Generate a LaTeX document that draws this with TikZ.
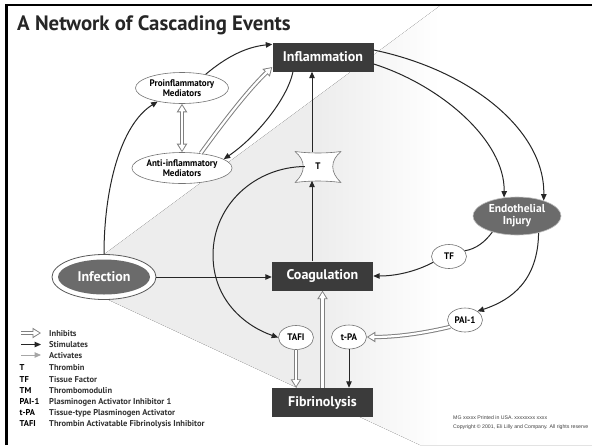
\documentclass[tikz,border=0pt]{standalone}
\usepackage{fontspec}
\setmainfont{PT Sans}
\newfontfamily\din{PT Sans}
\newfontfamily\dinc[FakeStretch=0.95]{PT Sans}
\newfontfamily\arialf{Liberation Sans}
\usetikzlibrary{arrows.meta,shapes.geometric,calc}
\definecolor{boxc}{gray}{0.23}
\pgfdeclarehorizontalshading{wedgeshade}{100bp}{color(0bp)=(black!7); color(49bp)=(black!7); color(60.5bp)=(white); color(100bp)=(white)}
\tikzset{
  bigbox/.style={rectangle, fill=boxc, text=white, minimum width=101pt, minimum height=29pt, inner sep=0pt, font=\din\bfseries\fontsize{14}{14}\selectfont},
  medell/.style={ellipse, draw=black!55, line width=0.6pt, fill=white, minimum width=93pt, minimum height=31pt, inner sep=0pt, align=center, font=\dinc\bfseries\fontsize{9.5}{10}\selectfont},
  smell/.style={ellipse, draw=black!55, line width=0.6pt, fill=white, minimum width=35pt, minimum height=24pt, inner sep=0pt, font=\dinc\bfseries\fontsize{9.5}{10}\selectfont},
  stim/.style={draw=black!85, line width=1pt, -{Triangle[length=6.5pt,width=5.5pt]}},
  plainline/.style={draw=black!85, line width=1pt},
  act/.style={draw=black!35, line width=1pt, -{Triangle[length=6.5pt,width=5.5pt]}},
  hollowR/.style={draw=black!50, line width=4.2pt, -{Triangle[length=8.5pt,width=10pt]},
    postaction={draw=white, line width=2.2pt, shorten >=1.6pt, -{Triangle[length=6pt,width=6.6pt]}}},
  hollowB/.style={draw=black!50, line width=4.2pt, {Triangle[length=8.5pt,width=10pt]}-{Triangle[length=8.5pt,width=10pt]},
    postaction={draw=white, line width=2.2pt, shorten >=1.6pt, shorten <=1.6pt, {Triangle[length=6pt,width=6.6pt]}-{Triangle[length=6pt,width=6.6pt]}}},
  legabbr/.style={anchor=base west, inner sep=0pt, text=black, font=\din\bfseries\fontsize{8.5}{8.5}\selectfont},
  legtext/.style={anchor=base west, inner sep=0pt, text=black!80, font=\din\bfseries\fontsize{8.5}{8.5}\selectfont},
  copytext/.style={anchor=base west, inner sep=0pt, text=black!75, font=\arialf\fontsize{5.2}{6}\selectfont},
}
\begin{document}
\begin{tikzpicture}[x=1pt,y=-1pt]
\useasboundingbox (0,0) rectangle (592,445);
\begin{scope}
\clip (0,0) rectangle (592,445);
\fill[white] (0,0) rectangle (592,445);
% background wedge
\fill[shading=wedgeshade] (68,281) -- (441,5) -- (592,5) -- (592,445) -- (420,445) -- cycle;
% frame
\draw[line width=2.6pt, black] (6.5,445) -- (6.5,5) -- (592,5);

% title
\node[anchor=base west, inner sep=0pt, text=black!85, font=\din\bfseries\fontsize{20.8}{21}\selectfont] (title) at (17,30) {A Network of Cascading Events};

% main boxes
\node[bigbox] (infl) at (323,57) {Inflammation};
\node[bigbox] (coag) at (322.5,276) {Coagulation};
\node[bigbox] (fib) at (322.5,402.5) {Fibrinolysis};

% mediators
\node[medell] (pro) at (182,88) {Proinflammatory\\Mediators};
\node[medell] (anti) at (182,168) {Anti-inflammatory\\Mediators};

% infection
\node[ellipse, draw=black!65, line width=0.8pt, fill=white, minimum width=104pt, minimum height=45pt, inner sep=0pt] (inf) at (104,277) {};
\node[ellipse, fill=black!58, minimum width=92pt, minimum height=35pt, inner sep=0pt, text=white, font=\din\bfseries\fontsize{14}{14}\selectfont] (infin) at (104,277) {Infection};

% endothelial injury
\node[ellipse, fill=black!58, draw=black!25, line width=0.6pt, minimum width=88pt, minimum height=38pt, inner sep=0pt, align=center, text=white, font=\din\bfseries\fontsize{11.5}{12}\selectfont] (endo) at (517,216) {Endothelial\\Injury};

% small ellipses
\node[smell] (tf) at (449,256.5) {TF};
\node[smell] (pai) at (465,320) {PAI-1};
\node[smell] (tpa) at (349,337) {t-PA};
\node[smell] (tafi) at (296,337.5) {TAFI};

% thrombin (T)
\node[minimum width=46pt, minimum height=31pt, inner sep=0pt] (T) at (318,166.5) {};
\begin{scope}[shift={(T.center)}]
\draw[fill=white, draw=black!55, line width=0.6pt, line join=round]
  (-23,-15) .. controls (-8,-13) and (8,-13) .. (23,-15)
  .. controls (12,-6) and (12,6) .. (23,16)
  .. controls (8,14) and (-8,14) .. (-23,16)
  .. controls (-12,6) and (-12,-6) .. (-23,-15) -- cycle;
\end{scope}
\node[inner sep=0pt, font=\dinc\bfseries\fontsize{9.5}{10}\selectfont] (Tlabel) at (T.center) {T};

% connectors
\draw[stim] (inf.north) .. controls (104,190) and (120,125) .. (pro.209);
\draw[stim] (pro.30) .. controls (225,58) and (245,47) .. ([yshift=-2pt]infl.north west);
\draw[stim] ([xshift=-30pt]infl.south) .. controls (287,100) and (255,138) .. (anti.12);
\draw[hollowR] (anti.38) .. controls (222,124) and (248,90) .. ([yshift=-10pt]infl.west);
\draw[hollowB] (pro.south) -- (anti.north);
\draw[stim] ([yshift=7pt]infl.east) .. controls (470,70) and (545,130) .. (endo.30);
\draw[stim] ([yshift=-7pt]infl.east) .. controls (440,85) and (505,140) .. (endo.125);
\draw[plainline] (endo.213) .. controls (485,242) and (476,249) .. (tf.20);
\draw[stim] (tf.200) .. controls (415,272) and (395,276) .. (coag.east);
\draw[stim] (endo.322) .. controls (538,280) and (512,300) .. (pai.35);
\draw[hollowR] (pai.205) .. controls (420,334) and (395,337) .. (tpa.east);
\draw[stim] (inf.east) -- (inf.east -| coag.west);
\draw[stim] ([xshift=-10.5pt]coag.north) -- ([xshift=-6pt,yshift=1.5pt]T.south);
\draw[stim] ([xshift=-6pt,yshift=-1.5pt]T.north) -- ([xshift=-11pt]infl.south);
\draw[stim] ([xshift=10pt]T.west) .. controls (255,167) and (213,205) .. (213,255)
   .. controls (213,300) and (245,326) .. (tafi.west);
\draw[hollowR] (tafi.south) -- (tafi.south |- fib.north);
\draw[hollowR] (fib.north) -- (coag.south);
\draw[stim] (tpa.south) -- (tpa.south |- fib.north);

% legend
\coordinate (l1a) at (21,333); \coordinate (l1b) at (41,333);
\coordinate (l2a) at (21,344.5); \coordinate (l2b) at (41,344.5);
\coordinate (l3a) at (21,355); \coordinate (l3b) at (41,355);
\draw[hollowR] (l1a) -- (l1b);
\draw[stim] (l2a) -- (l2b);
\draw[act] (l3a) -- (l3b);
\node[legtext] (lt1) at (49,336) {Inhibits};
\node[legtext] (lt2) at (49,347.5) {Stimulates};
\node[legtext] (lt3) at (49,358) {Activates};
\node[legabbr] (la4) at (19.5,370.5) {T};
\node[legtext] (lt4) at (49,370.5) {Thrombin};
\node[legabbr] (la5) at (19.5,382) {TF};
\node[legtext] (lt5) at (49,382) {Tissue Factor};
\node[legabbr] (la6) at (19.5,393.5) {TM};
\node[legtext] (lt6) at (49,393.5) {Thrombomodulin};
\node[legabbr] (la7) at (19.5,404.5) {PAI-1};
\node[legtext] (lt7) at (49,404.5) {Plasminogen Activator Inhibitor 1};
\node[legabbr] (la8) at (19.5,415.5) {t-PA};
\node[legtext] (lt8) at (49,415.5) {Tissue-type Plasminogen Activator};
\node[legabbr] (la9) at (19.5,426) {TAFI};
\node[legtext] (lt9) at (49,426) {Thrombin Activatable Fibrinolysis Inhibitor};

% copyright
\node[copytext] (cp1) at (453,419) {MG xxxxx Printed in USA. xxxxxxxx xxxx};
\node[copytext] (cp2) at (453,428) {Copyright \textcopyright\ 2001, Eli Lilly and Company. All rights reserve};
\end{scope}
\end{tikzpicture}
\end{document}
